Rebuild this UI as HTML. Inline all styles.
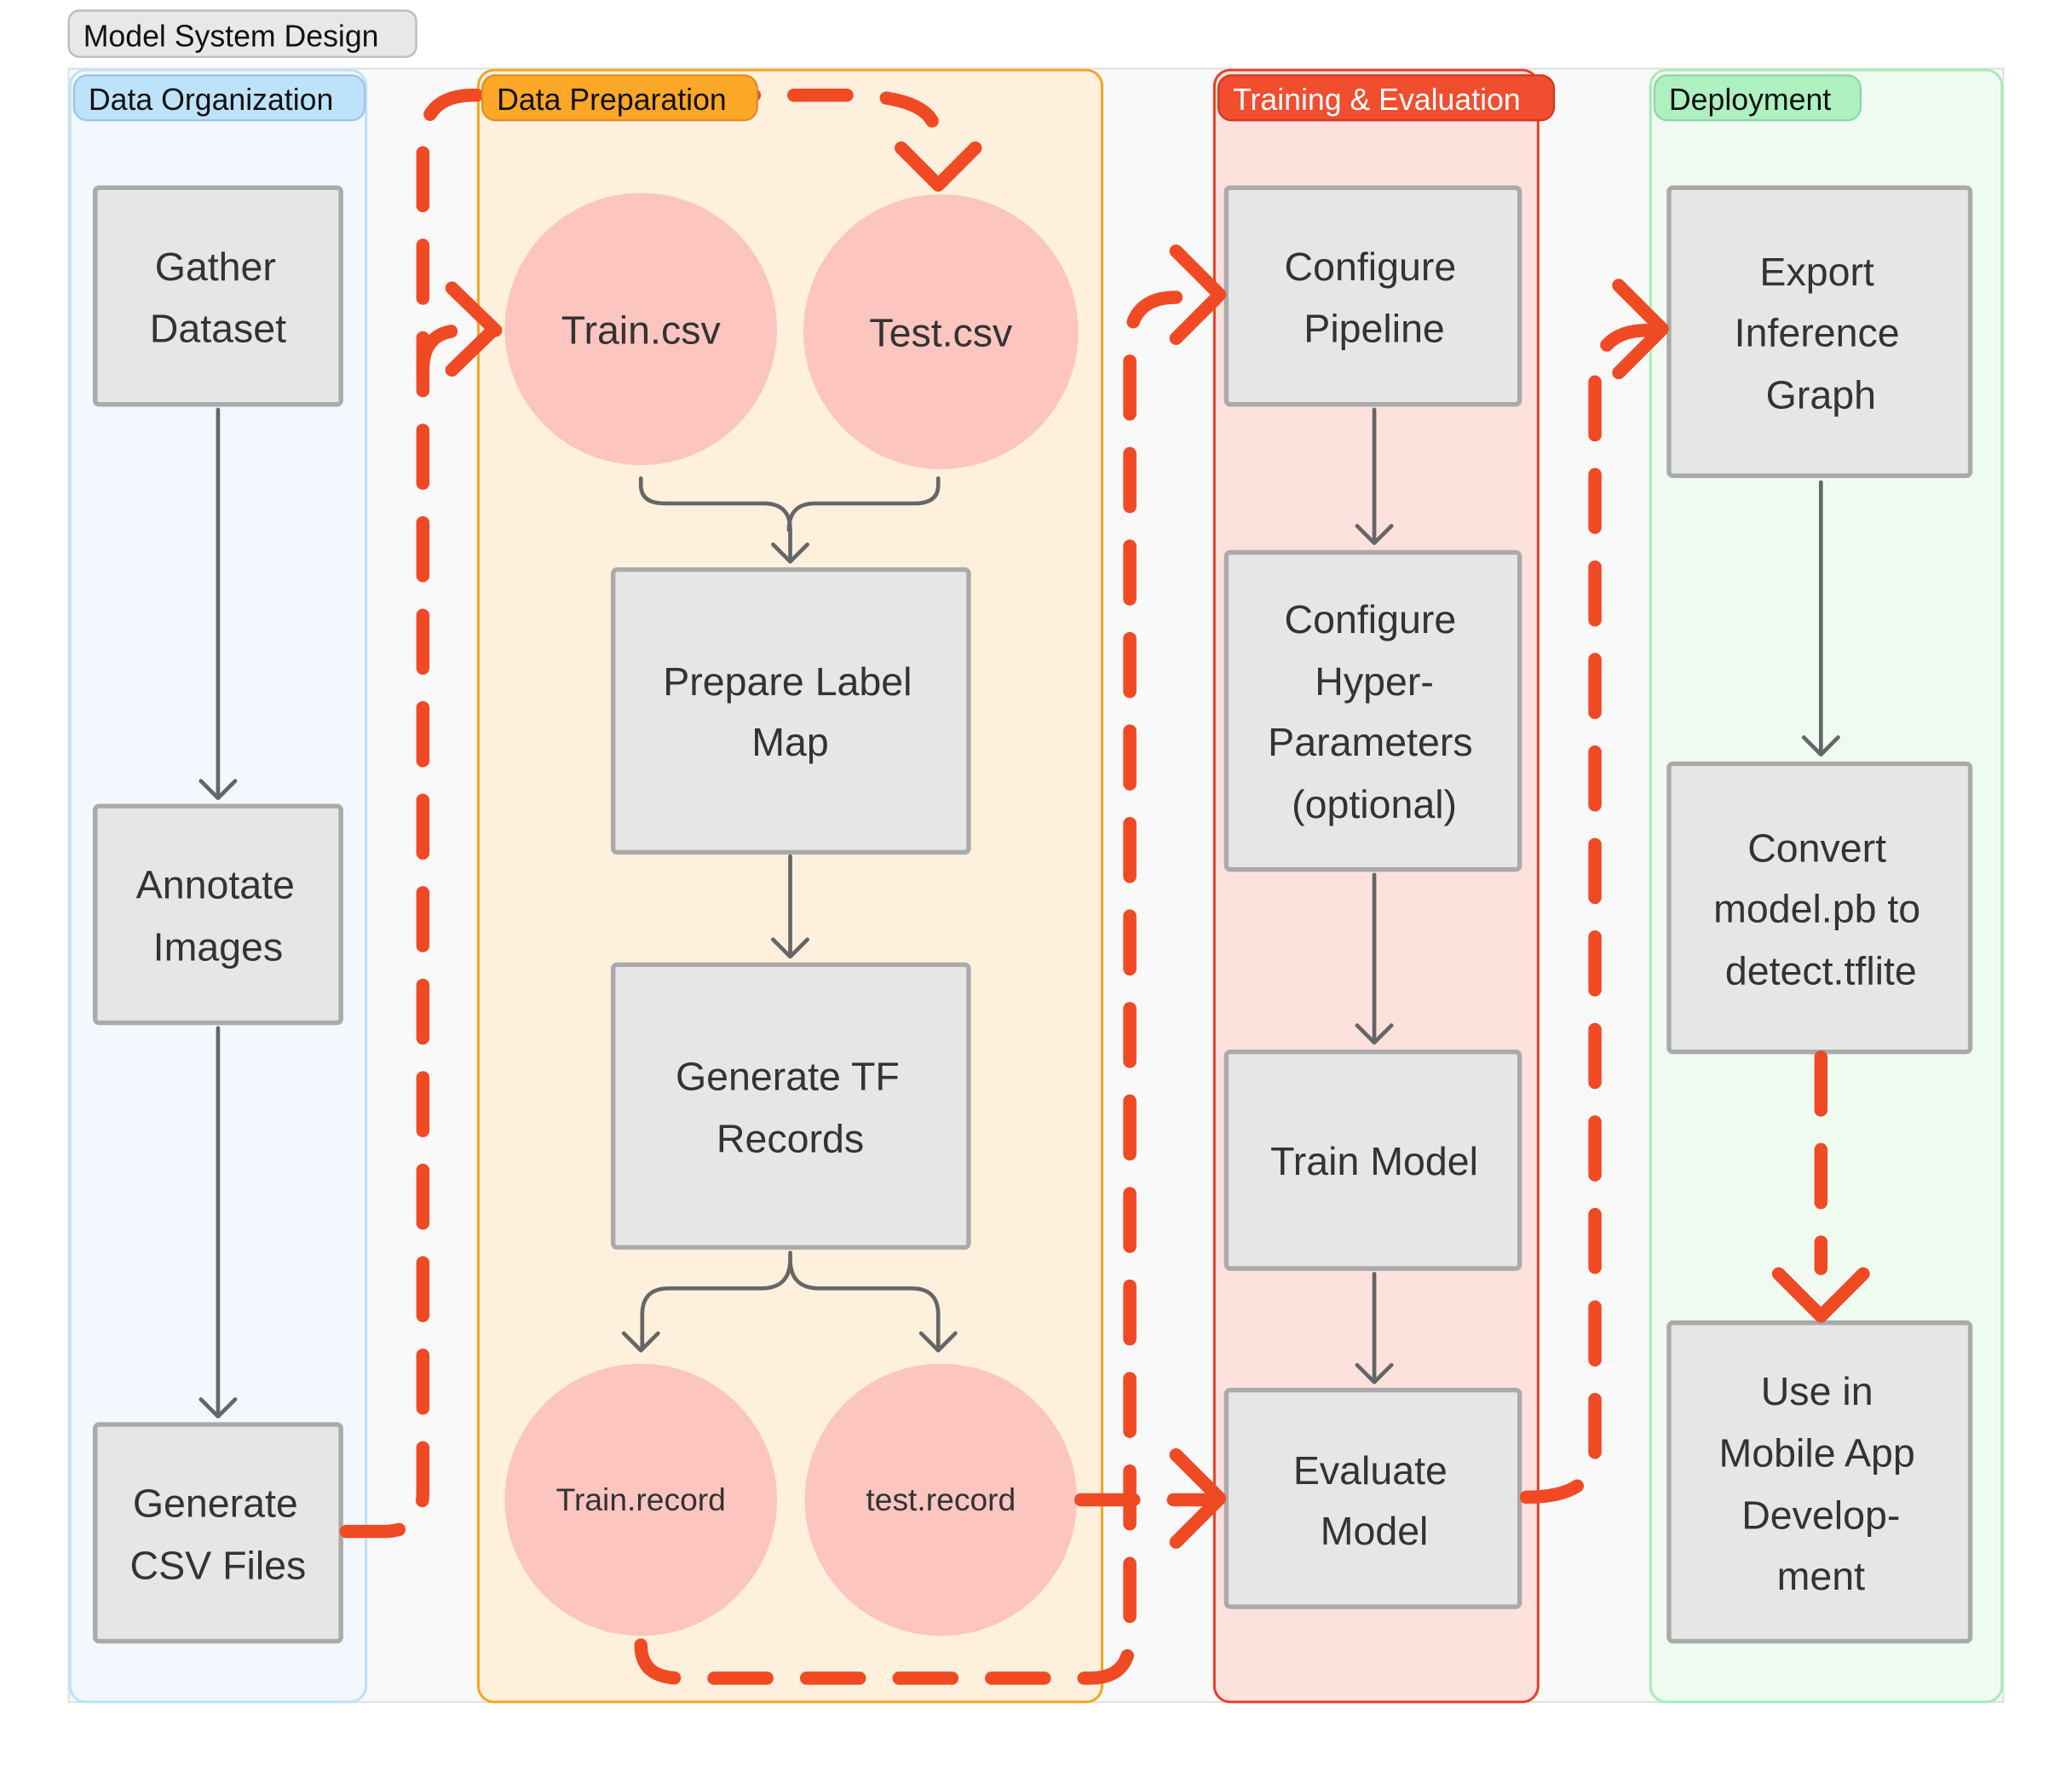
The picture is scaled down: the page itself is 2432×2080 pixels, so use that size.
<!DOCTYPE html>
<html><head><meta charset="utf-8"><style>
html,body{margin:0;padding:0;background:#fff;}
svg{display:block;}
text{font-family:"Liberation Sans",sans-serif;}
</style></head><body>
<svg width="2432" height="2080" viewBox="0 0 1568 1341" xmlns="http://www.w3.org/2000/svg">
<rect x="0" y="0" width="1568" height="1341" fill="#fff"/>
<rect x="52" y="8" width="263" height="35" rx="8" fill="#e8e8e8" stroke="#bbb" stroke-width="1.5"/>
<text x="63" y="35" font-size="23" fill="#111">Model System Design</text>
<rect x="52" y="52" width="1464" height="1236" fill="#f9f9f9" stroke="#e2e2e2" stroke-width="1.5"/>
<!-- lanes -->
<rect x="53" y="53" width="224" height="1235" rx="12" fill="#f2f8fd" stroke="#bde2fb" stroke-width="2"/>
<rect x="362" y="53" width="472" height="1235" rx="12" fill="#fef0dd" stroke="#f5a623" stroke-width="2"/>
<rect x="919" y="53" width="245" height="1235" rx="12" fill="#fde1dd" stroke="#e8432e" stroke-width="2"/>
<rect x="1249" y="53" width="266" height="1235" rx="12" fill="#effbf1" stroke="#a6ecb8" stroke-width="2"/>

<!-- gray arrows -->
<g stroke="#666" stroke-width="3" fill="none" stroke-linecap="round" stroke-linejoin="round">
<path d="M165 310V603M152 591l13 13 13-13"/>
<path d="M165 778V1071M152 1059l13 13 13-13"/>
<path d="M485 362v5q0 14 18 14h75q20 0 20 20v24M710 362v5q0 14-18 14h-75q-20 0-20 20"/>
<path d="M585 412l13 13 13-13"/>
<path d="M598 648V723M585 711l13 13 13-13"/>
<path d="M598 948v5q0 22 22 22h70q20 0 20 20v26M697 1009l13 13 13-13M598 953q0 22-22 22h-70q-20 0-20 20v26M472 1009l13 13 13-13"/>
<path d="M1040 310V410M1027 398l13 13 13-13"/>
<path d="M1040 662V788M1027 776l13 13 13-13"/>
<path d="M1040 964V1045M1027 1033l13 13 13-13"/>
<path d="M1378 365V570M1365 558l13 13 13-13"/>
</g>

<!-- boxes -->
<g fill="#e6e6e6" stroke="#aaa" stroke-width="3.5">
<rect x="72" y="142" width="186" height="164" rx="3"/>
<rect x="72" y="610" width="186" height="164" rx="3"/>
<rect x="72" y="1078" width="186" height="164" rx="3"/>
<rect x="464" y="431" width="269" height="214" rx="3"/>
<rect x="464" y="730" width="269" height="214" rx="3"/>
<rect x="928" y="142" width="222" height="164" rx="3"/>
<rect x="928" y="418" width="222" height="240" rx="3"/>
<rect x="928" y="796" width="222" height="164" rx="3"/>
<rect x="928" y="1052" width="222" height="164" rx="3"/>
<rect x="1263" y="142" width="228" height="218" rx="3"/>
<rect x="1263" y="578" width="228" height="218" rx="3"/>
<rect x="1263" y="1001" width="228" height="241" rx="3"/>
</g>
<g fill="#fcc5bf">
<circle cx="485" cy="249" r="103"/>
<circle cx="712" cy="251" r="104"/>
<circle cx="485" cy="1135" r="103"/>
<circle cx="712" cy="1135" r="103"/>
</g>

<!-- red dashed connectors -->
<g stroke="#f04a25" stroke-width="10" fill="none" stroke-linecap="round" stroke-linejoin="round" stroke-dasharray="40 30">
<path d="M262 1159h28q30 0 30-30V110q0-38 38-38h280q70 0 70 30v12"/>
<path d="M320 280q0-30 30-30h25"/>
<path d="M485 1245q0 25 30 25h310q30 0 30-30V260q0-35 35-35h30"/>
<path d="M818 1135h32q5 0 5 0h65"/>
<path d="M1155 1133q52 0 52-35V290q0-40 40-40h10"/>
<path d="M1378 800V960"/>
</g>
<g stroke="#f04a25" stroke-width="10" fill="none" stroke-linecap="round" stroke-linejoin="round">
<path d="M682 112l28 28 28-28"/>
<path d="M342 218l32 31-32 31"/>
<path d="M890 190l33 33-33 33"/>
<path d="M890 1101l33 33-33 33"/>
<path d="M1225 216l33 33-33 33"/>
<path d="M1346 964l32 32 32-32"/>
</g>

<!-- lane tags on top -->
<rect x="56" y="57" width="220" height="34" rx="10" fill="#bde3fb" stroke="#9fc6e0" stroke-width="1.5"/>
<text x="67" y="83" font-size="23" fill="#111">Data Organization</text>
<rect x="365" y="57" width="208" height="34" rx="10" fill="#fca728" stroke="#e0902a" stroke-width="1.5"/>
<text x="376" y="83" font-size="23" fill="#111">Data Preparation</text>
<rect x="922" y="57" width="254" height="34" rx="10" fill="#f04e2f" stroke="#d23a20" stroke-width="1.5"/>
<text x="933" y="83" font-size="23" fill="#fff">Training &amp; Evaluation</text>
<rect x="1252" y="57" width="156" height="34" rx="10" fill="#aef0c0" stroke="#8fd7a4" stroke-width="1.5"/>
<text x="1263" y="83" font-size="23" fill="#111">Deployment</text>

<!-- labels -->
<g font-size="30" fill="#333" text-anchor="middle">
<text x="163" y="212">Gather</text><text x="165" y="259">Dataset</text>
<text x="163" y="680">Annotate</text><text x="165" y="727">Images</text>
<text x="163" y="1148">Generate</text><text x="165" y="1195">CSV Files</text>
<text x="596" y="526">Prepare Label</text><text x="598" y="572">Map</text>
<text x="596" y="825">Generate TF</text><text x="598" y="872">Records</text>
<text x="1037" y="212">Configure</text><text x="1040" y="259">Pipeline</text>
<text x="1037" y="479">Configure</text><text x="1040" y="526">Hyper-</text><text x="1037" y="572">Parameters</text><text x="1040" y="619">(optional)</text>
<text x="1040" y="889">Train Model</text>
<text x="1037" y="1123">Evaluate</text><text x="1040" y="1169">Model</text>
<text x="1375" y="216">Export</text><text x="1375" y="262">Inference</text><text x="1378" y="309">Graph</text>
<text x="1375" y="652">Convert</text><text x="1375" y="698">model.pb to</text><text x="1378" y="745">detect.tflite</text>
<text x="1375" y="1063">Use in</text><text x="1375" y="1110">Mobile App</text><text x="1378" y="1157">Develop-</text><text x="1378" y="1203">ment</text>
<text x="485" y="260">Train.csv</text>
<text x="712" y="262">Test.csv</text>
<text x="485" y="1143" font-size="24">Train.record</text>
<text x="712" y="1143" font-size="24">test.record</text>
</g>
</svg>
</body></html>
